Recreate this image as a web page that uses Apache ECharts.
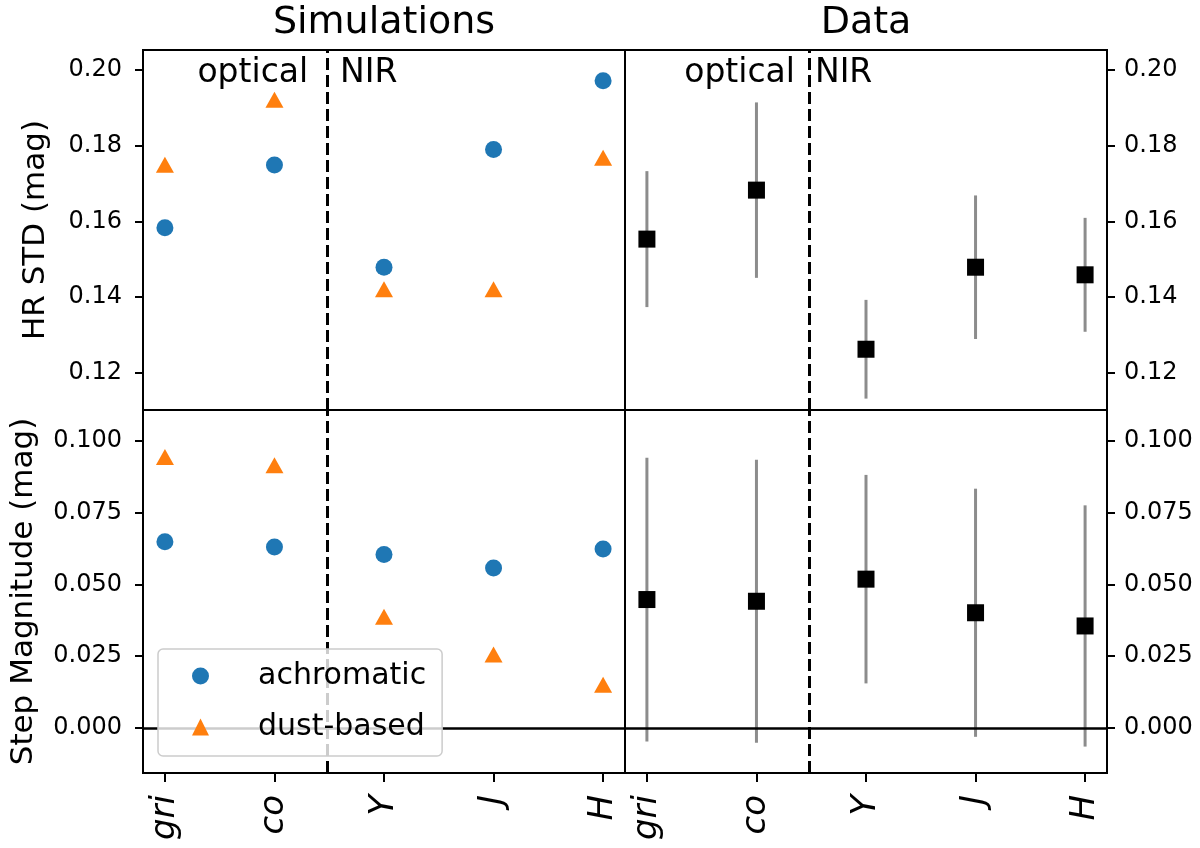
<!DOCTYPE html>
<html>
<head>
<meta charset="utf-8">
<script src="https://cdn.jsdelivr.net/npm/echarts@6/dist/echarts.min.js"></script>
<style>
  html, body {margin: 0; padding: 0; background: #fff;}
  #chart {width: 1200px; height: 848px;}
</style>
</head>
<body>
<div id="chart"></div>
<script>
const bands = ["gri", "co", "Y", "J", "H"];
const bandPos = [0, 1, 2, 3, 4];

// simulations
const simStdAchromatic = [0.1583, 0.1748, 0.1479, 0.1789, 0.1970];
const simStdDust = [0.1749, 0.1920, 0.1421, 0.1421, 0.1767];
const simStepAchromatic = [0.0648, 0.0630, 0.0604, 0.0557, 0.0623];
const simStepDust = [0.0943, 0.0915, 0.0387, 0.0256, 0.0150];

// observed data, value +- error
const dataStd = [0.1553, 0.1682, 0.1263, 0.1479, 0.1459];
const dataStdErr = [0.0179, 0.0231, 0.0130, 0.0189, 0.0150];
const dataStep = [0.0447, 0.0441, 0.0518, 0.0401, 0.0355];
const dataStepErr = [0.0494, 0.0493, 0.0363, 0.0432, 0.0420];

const stdTicks = [0.12, 0.14, 0.16, 0.18, 0.20];
const stepTicks = [0, 0.025, 0.05, 0.075, 0.1];

const stdRange = [0.1103, 0.2051];
const stepRange = [-0.0157, 0.1107];
const separatorX = 1.48;

const font = "DejaVu Sans";
const blue = "#1f77b4";
const orange = "#ff7f0e";

const chart = echarts.init(document.getElementById("chart"));

const gridBox = (left, top, height) => ({
  left: left, top: top, width: 482, height: height,
  show: true, borderColor: "#000", borderWidth: 2, backgroundColor: "transparent",
});

const xAxis = (gi, labels) => ({
  type: "value", gridIndex: gi, min: -0.2, max: 4.2,
  axisLine: {show: false, onZero: false},
  splitLine: {show: false},
  axisTick: {show: labels, customValues: bandPos, length: 9, lineStyle: {color: "#000", width: 2}},
  axisLabel: {
    show: labels, customValues: bandPos, rotate: 90, margin: 22,
    fontSize: 34, fontStyle: "italic", fontFamily: font, color: "#000",
    formatter: (v) => bands[Math.round(v)],
  },
});

const yAxis = (gi, side, range, ticks, digits, name, gap) => ({
  type: "value", gridIndex: gi, position: side, min: range[0], max: range[1],
  axisLine: {show: false, onZero: false},
  splitLine: {show: false},
  axisTick: {customValues: ticks, length: 8, lineStyle: {color: "#000", width: 2}},
  axisLabel: {
    customValues: ticks, margin: side === "left" ? 21 : 17,
    fontSize: 24, fontFamily: font, color: "#000",
    formatter: (v) => v.toFixed(digits),
  },
  name: name, nameLocation: "middle", nameGap: gap,
  nameTextStyle: {fontSize: 31, fontFamily: font, color: "#000"},
});

const refLines = (withZero) => {
  const data = [{xAxis: separatorX, lineStyle: {type: [12, 5], width: 3, color: "#000"}}];
  if (withZero) {
    data.push({yAxis: 0, lineStyle: {type: "solid", width: 2.5, color: "#000"}});
  }
  return {silent: true, symbol: "none", label: {show: false}, animation: false, data: data};
};

const simSeries = (gi, name, values, symbol, size, color, lines) => ({
  name: name, type: "scatter", xAxisIndex: gi, yAxisIndex: gi,
  symbol: symbol, symbolSize: size,
  itemStyle: {color: color, opacity: 1},
  data: bandPos.map((x, i) => [x, values[i]]),
  markLine: lines,
  z: 3,
});

const errorSeries = (gi, values, errs) => ({
  name: "err" + gi, type: "custom", xAxisIndex: gi, yAxisIndex: gi, silent: true, z: 1,
  data: bandPos.map((x, i) => [x, values[i] - errs[i], values[i] + errs[i]]),
  renderItem: (params, api) => {
    const lo = api.coord([api.value(0), api.value(1)]);
    const hi = api.coord([api.value(0), api.value(2)]);
    return {
      type: "line",
      shape: {x1: lo[0], y1: lo[1], x2: hi[0], y2: hi[1]},
      style: {stroke: "#8c8c8c", lineWidth: 3},
    };
  },
});

const dataSeries = (gi, values, lines) => ({
  name: "data" + gi, type: "scatter", xAxisIndex: gi, yAxisIndex: gi,
  symbol: "rect", symbolSize: 17,
  itemStyle: {color: "#000", opacity: 1},
  data: bandPos.map((x, i) => [x, values[i]]),
  markLine: lines,
  z: 3,
});

// "optical" / "NIR" labels, placed in data coordinates
const regionLabels = (gi, opticalX, nirX) => ({
  name: "regions" + gi, type: "scatter", xAxisIndex: gi, yAxisIndex: gi, silent: true,
  symbolSize: 0,
  itemStyle: {opacity: 1},
  label: {show: true, formatter: "{b}", fontSize: 33, fontFamily: font, color: "#000", opacity: 1, distance: 0},
  data: [
    {name: "optical", value: [opticalX, 0.1990], label: {position: "left"}},
    {name: "NIR", value: [nirX, 0.1990], label: {position: "right"}},
  ],
});

const option = {
  animation: false,
  backgroundColor: "#fff",
  grid: [
    gridBox(143, 50, 360),
    gridBox(143, 410, 363),
    gridBox(625, 50, 360),
    gridBox(625, 410, 363),
  ],
  xAxis: [
    xAxis(0, false),
    xAxis(1, true),
    xAxis(2, false),
    xAxis(3, true),
  ],
  yAxis: [
    yAxis(0, "left", stdRange, stdTicks, 2, "HR STD (mag)", 92),
    yAxis(1, "left", stepRange, stepTicks, 3, "Step Magnitude (mag)", 104),
    yAxis(2, "right", stdRange, stdTicks, 2, "", 0),
    yAxis(3, "right", stepRange, stepTicks, 3, "", 0),
  ],
  legend: {
    data: [{name: "achromatic", icon: "circle"}, {name: "dust-based", icon: "triangle"}],
    orient: "vertical", left: 158, top: 649, z: 20,
    itemWidth: 17, itemHeight: 17, itemGap: 17,
    padding: [10, 16, 12, 34],
    selectedMode: false,
    backgroundColor: "rgba(255,255,255,0.8)",
    borderColor: "#cccccc", borderWidth: 1.5, borderRadius: 5,
    textStyle: {fontSize: 30, fontFamily: font, color: "#000", lineHeight: 34, padding: [0, 0, 0, 44]},
  },
  graphic: [
    {type: "text", x: 384, y: 23, style: {text: "Simulations", fontSize: 38, fontFamily: font, fill: "#000", align: "center", verticalAlign: "middle"}},
    {type: "text", x: 866, y: 23, style: {text: "Data", fontSize: 38, fontFamily: font, fill: "#000", align: "center", verticalAlign: "middle"}},
  ],
  series: [
    simSeries(0, "achromatic", simStdAchromatic, "circle", 17, blue, refLines(false)),
    simSeries(0, "dust-based", simStdDust, "triangle", [18, 16], orange),
    simSeries(1, "achromatic", simStepAchromatic, "circle", 17, blue, refLines(true)),
    simSeries(1, "dust-based", simStepDust, "triangle", [18, 16], orange),
    errorSeries(2, dataStd, dataStdErr),
    dataSeries(2, dataStd, refLines(false)),
    errorSeries(3, dataStep, dataStepErr),
    dataSeries(3, dataStep, refLines(true)),
    regionLabels(0, 1.308, 1.598),
    regionLabels(2, 1.352, 1.534),
  ],
};

chart.setOption(option);
</script>
</body>
</html>
